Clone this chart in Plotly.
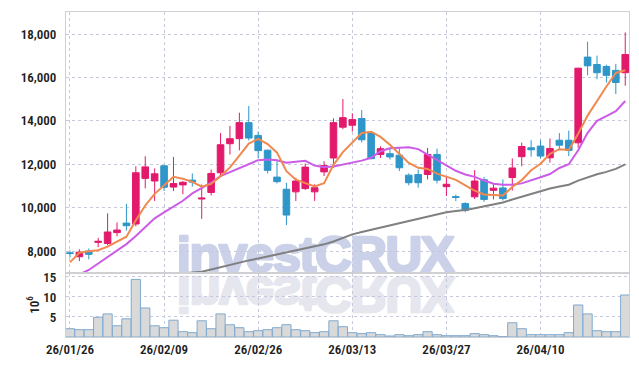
import base64
import plotly.graph_objects as go

# ---------------- data ----------------
dates = [
    "26/01/26", "26/01/27", "26/01/28", "26/01/29", "26/01/30",
    "26/02/02", "26/02/03", "26/02/04", "26/02/05", "26/02/06",
    "26/02/09", "26/02/10", "26/02/11", "26/02/12", "26/02/13",
    "26/02/19", "26/02/20", "26/02/23", "26/02/24", "26/02/25",
    "26/02/26", "26/02/27", "26/03/03", "26/03/04", "26/03/05",
    "26/03/06", "26/03/09", "26/03/10", "26/03/11", "26/03/12",
    "26/03/13", "26/03/16", "26/03/17", "26/03/18", "26/03/19",
    "26/03/20", "26/03/23", "26/03/24", "26/03/25", "26/03/26",
    "26/03/27", "26/03/30", "26/03/31", "26/04/01", "26/04/02",
    "26/04/03", "26/04/06", "26/04/07", "26/04/08", "26/04/09",
    "26/04/10", "26/04/13", "26/04/14", "26/04/15", "26/04/16",
    "26/04/17", "26/04/20", "26/04/21", "26/04/22", "26/04/23",
]
tick_labels = ["26/01/26", "26/02/09", "26/02/26", "26/03/13", "26/03/27", "26/04/10"]

opens = [7920, 7740, 8000, 8400, 8350, 8850, 9290, 9250, 11350, 11230,
         11930, 10950, 11050, 11270, 10400, 10700, 11610, 12950, 13180, 13920,
         13330, 12650, 11410, 10850, 10730, 10880, 10730, 11650, 12290, 13710,
         13800, 14110, 13440, 12450, 12490, 12420, 11500, 11530, 11530, 12450,
         10970, 10510, 10190, 10500, 11290, 10800, 10910, 11390, 12350, 12760,
         12840, 12300, 13110, 13110, 12990, 16940, 16600, 16510, 16330, 16220]
highs = [8030, 8080, 8120, 8610, 9740, 9320, 10180, 11910, 12370, 11810,
         11960, 12340, 11230, 11580, 11070, 11760, 13440, 13770, 14380, 14690,
         13510, 12680, 12220, 11150, 11380, 12040, 11080, 12140, 14120, 15010,
         14350, 14500, 13500, 12830, 12750, 12750, 11580, 11760, 12750, 12720,
         11460, 10600, 10250, 11740, 11420, 11120, 11300, 12270, 13000, 13110,
         13110, 13190, 13440, 13550, 16450, 17650, 17010, 16590, 16630, 18080]
lows = [7700, 7540, 7620, 8180, 8270, 8680, 8940, 9140, 10890, 10310,
        10770, 10770, 10620, 10970, 9480, 10570, 11490, 12450, 12640, 13100,
        12290, 11580, 11120, 9200, 10310, 10820, 10310, 11460, 11840, 13620,
        13510, 13010, 12220, 12290, 12220, 11690, 11030, 10920, 11300, 11120,
        10540, 10300, 9790, 10400, 10270, 10380, 10330, 10790, 11910, 12350,
        12270, 12080, 12650, 12380, 12760, 16100, 15920, 15770, 15240, 15620]
closes = [7890, 7950, 7850, 8450, 8880, 8970, 9170, 11610, 11880, 11560,
          10940, 11110, 11170, 11180, 10440, 11580, 12900, 13180, 13920, 13210,
          12630, 11720, 11200, 9660, 11230, 11870, 10920, 11940, 13920, 14150,
          14060, 13130, 12260, 12720, 12340, 11840, 11150, 11150, 12450, 11270,
          11080, 10470, 9870, 11230, 10380, 10900, 10420, 11830, 12820, 12670,
          12380, 12730, 12880, 12640, 16430, 16540, 16220, 16100, 15770, 17060]

ma5 = [7480, 7920, 7990, 8040, 8204, 8420, 8664, 9416, 10102, 10638,
       11032, 11420, 11332, 11192, 10968, 11096, 11454, 11856, 12404, 12958,
       13168, 12932, 12536, 11684, 11288, 11136, 10976, 11124, 11976, 12560,
       12998, 13440, 13504, 13264, 12902, 12458, 12062, 11840, 11786, 11572,
       11420, 11284, 11028, 10784, 10606, 10570, 10560, 10952, 11270, 11728,
       12024, 12486, 12696, 12660, 13412, 14244, 14942, 15586, 16212, 16338]
ma20 = [6750, 6920, 7130, 7420, 7700, 8000, 8320, 8690, 9100, 9510,
        9780, 10040, 10320, 10660, 10920, 11150, 11460, 11640, 11840, 12020,
        12190, 12220, 12190, 12070, 12100, 12160, 11940, 11870, 11900, 11980,
        12060, 12170, 12300, 12600, 12740, 12780, 12790, 12700, 12450, 12200,
        11920, 11700, 11530, 11420, 11250, 11100, 11060, 11060, 11120, 11250,
        11400, 11550, 11830, 12000, 12650, 13450, 14000, 14220, 14450, 14920]
ma60 = [6450, 6500, 6550, 6590, 6640, 6680, 6730, 6770, 6810, 6860,
        6900, 6940, 6980, 7010, 7050, 7150, 7260, 7370, 7470, 7570,
        7660, 7750, 7840, 7930, 8020, 8100, 8200, 8310, 8440, 8600,
        8770, 8880, 8980, 9080, 9170, 9270, 9370, 9480, 9600, 9700,
        9790, 9850, 9890, 9970, 10070, 10160, 10240, 10380, 10510, 10640,
        10760, 10880, 10980, 11060, 11250, 11400, 11540, 11650, 11790, 12000]

volume_m = [2.07, 1.83, 1.83, 4.94, 5.77, 2.81, 4.54, 14.4, 7.26, 2.81,
            2.32, 4.2, 1.33, 1.09, 4.05, 2.07, 5.77, 3.06, 2.32, 1.33,
            1.58, 1.83, 2.32, 3.06, 1.83, 1.58, 1.09, 1.33, 4.05, 2.57,
            1.09, 0.85, 1.09, 0.59, 0.25, 0.59, 0.33, 0.59, 1.33, 0.59,
            0.33, 0.33, 0.33, 0.85, 0.59, 0.33, 0.08, 3.56, 2.07, 0.59,
            0.59, 0.59, 0.59, 1.09, 8.0, 5.77, 1.58, 1.33, 1.33, 10.5]

price_ticks = [8000, 10000, 12000, 14000, 16000, 18000]
volume_ticks = [5, 10, 15]
volume_unit = "10<sup>6</sup>"

# ---------------- style ----------------
UP = "#e3196c"
DOWN = "#2e96c9"
GRID = "#c6c8dc"
BORDER = "#cfcfd4"
FONT = "Liberation Sans Narrow, Roboto Condensed, Roboto, sans-serif"
TICKFONT = dict(family=FONT, size=13, color="#1e1e1e", weight=600)
W, H = 639, 366
ML, MR, MT, MB = 66, 9, 9, 29
PW, PH = W - ML - MR, H - MT - MB

fig = go.Figure()
fig.add_trace(go.Candlestick(
    x=dates, open=opens, high=highs, low=lows, close=closes,
    increasing=dict(line=dict(color=UP, width=1), fillcolor=UP),
    decreasing=dict(line=dict(color=DOWN, width=1), fillcolor=DOWN),
    whiskerwidth=0, xaxis="x", yaxis="y", showlegend=False, hoverinfo="skip",
))
fig.add_trace(go.Scatter(x=dates, y=ma60, mode="lines", line=dict(color="#808080", width=2),
                         xaxis="x", yaxis="y", showlegend=False, hoverinfo="skip"))
fig.add_trace(go.Scatter(x=dates, y=ma20, mode="lines", line=dict(color="#cc5ce8", width=2),
                         xaxis="x", yaxis="y", showlegend=False, hoverinfo="skip"))
fig.add_trace(go.Scatter(x=dates, y=ma5, mode="lines", line=dict(color="#f0894f", width=2),
                         xaxis="x", yaxis="y", showlegend=False, hoverinfo="skip"))
fig.add_trace(go.Bar(x=dates, y=volume_m, xaxis="x2", yaxis="y2",
                     marker=dict(color="#d9d9d9", line=dict(color="#7faad0", width=1)),
                     showlegend=False, hoverinfo="skip"))

# watermark with reflection (as an svg image, drawn below the data)
txt_attrs = ('font-family="Liberation Sans, Arial, sans-serif" font-weight="900" '
             'font-size="51" letter-spacing="-1.5" stroke-width="2.6" stroke-linejoin="round"')
svg = (
    '<svg xmlns="http://www.w3.org/2000/svg" width="320" height="100" viewBox="0 0 320 100">'
    f'<text x="3" y="44" {txt_attrs} fill="#cbd1e8" stroke="#cbd1e8">investCRUX</text>'
    '<g transform="matrix(1 0 0 -1 0 93)">'
    f'<text x="3" y="44" {txt_attrs} fill="#e6e6ef" stroke="#e6e6ef">investCRUX</text></g>'
    '</svg>'
)
src = "data:image/svg+xml;base64," + base64.b64encode(svg.encode()).decode()
fig.add_layout_image(dict(
    source=src, xref="paper", yref="paper",
    x=(174 - ML) / PW, y=(MT + PH - 227) / PH,
    sizex=320 / PW, sizey=100 / PH, xanchor="left", yanchor="top",
    sizing="stretch", layer="below",
))

vol_frac = 65 / PH
common_x = dict(
    type="category", range=[-0.42, 59.4], tickvals=tick_labels, ticktext=tick_labels,
    showgrid=True, gridcolor=GRID, griddash="dot", gridwidth=1,
    showline=True, mirror=True, linecolor=BORDER, linewidth=1, ticks="",
    zeroline=False, fixedrange=True,
)
fig.update_layout(
    width=W, height=H,
    margin=dict(l=ML, r=MR, t=MT, b=MB),
    paper_bgcolor="white", plot_bgcolor="rgba(0,0,0,0)",
    bargap=0.02, boxgap=0.3, boxgroupgap=0.0, showlegend=False,
    font=dict(family=FONT, size=13, color="#1e1e1e"),
    xaxis=dict(common_x, domain=[0, 1], anchor="y", showticklabels=False,
               rangeslider=dict(visible=False)),
    xaxis2=dict(common_x, domain=[0, 1], anchor="y2", matches="x", showticklabels=True,
                tickfont=TICKFONT),
    yaxis=dict(domain=[vol_frac, 1], range=[7008, 19020], tickvals=price_ticks,
               tickformat=",", showgrid=True, gridcolor=GRID, griddash="dot",
               showline=True, mirror=True, linecolor=BORDER, zeroline=False,
               ticks="", ticklabelstandoff=6, tickfont=TICKFONT),
    yaxis2=dict(domain=[0, vol_frac], range=[0, 16.1], tickvals=volume_ticks,
                showgrid=True, gridcolor=GRID, griddash="dot",
                showline=True, mirror=True, linecolor=BORDER, zeroline=False,
                ticks="", ticklabelstandoff=6, tickfont=TICKFONT),
)
fig.add_annotation(
    text=volume_unit, xref="paper", yref="paper",
    x=(33 - ML) / PW, y=vol_frac / 2, textangle=-90, showarrow=False,
    xanchor="center", yanchor="middle",
    font=dict(family=FONT, size=13, color="#1e1e1e", weight=600),
)

fig.write_html("out.html")
